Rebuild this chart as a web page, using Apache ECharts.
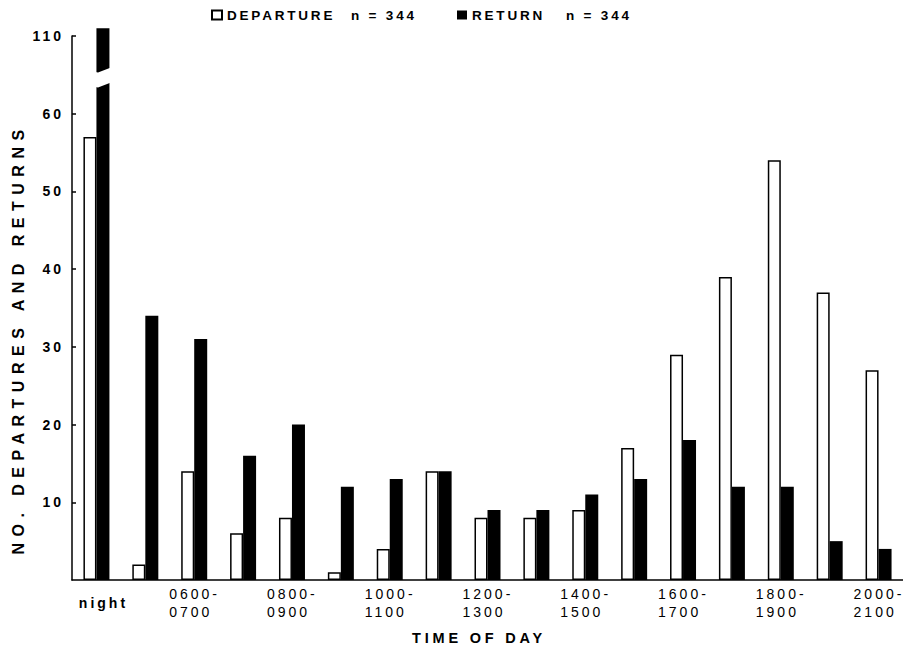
<!DOCTYPE html>
<html><head><meta charset="utf-8">
<script src="https://cdn.jsdelivr.net/npm/echarts@6.0.0/dist/echarts.min.js"></script>
<style>
html,body{margin:0;padding:0;background:#fff;}
#chart{width:903px;height:648px;}
#chart text{letter-spacing:3px;white-space:pre;}
#chart text[style*="16px"]{letter-spacing:6.5px;}
#chart text[style*="14.5px"]{letter-spacing:3.8px;}
#chart text[style*="13.5px"]{letter-spacing:2.8px;}
</style></head><body><div id="chart"></div>
<script>
const categories = ['night','0500-0600','0600-0700','0700-0800','0800-0900','0900-1000','1000-1100','1100-1200','1200-1300','1300-1400','1400-1500','1500-1600','1600-1700','1700-1800','1800-1900','1900-2000','2000-2100'];
const departures = [57, 2, 14, 6, 8, 1, 4, 14, 8, 8, 9, 17, 29, 39, 54, 37, 27];
const returns = [111, 34, 31, 16, 20, 12, 13, 14, 9, 9, 11, 13, 18, 12, 12, 5, 4];
const yTickValues = [10, 20, 30, 40, 50, 60, 110];
const depName = 'DEPARTURE';
const retName = 'RETURN';
const nDeparture = 344;
const nReturn = 344;
const xTitle = 'TIME OF DAY';
const yTitle = 'NO. DEPARTURES AND RETURNS';

const FONT = "'Liberation Sans', Arial, sans-serif";
const chart = echarts.init(document.getElementById('chart'), null, {renderer: 'svg'});

function legendCfg(name, n, left) {
  const ts = {fontFamily: FONT, fontSize: 13.5, fontWeight: 'bold', color: '#000'};
  return {
    data: [name], left: left, top: 3, icon: 'rect', itemWidth: 10, itemHeight: 9,
    selectedMode: false,
    formatter: nm => '{a|' + nm + '}{b|n = ' + n + '}',
    textStyle: Object.assign({}, ts, {
      rich: {
        a: Object.assign({}, ts, {width: name === depName ? 124 : 94}),
        b: Object.assign({}, ts)
      }
    })
  };
}

chart.setOption({
  animation: false,
  backgroundColor: '#fff',
  legend: [legendCfg(depName, nDeparture, 206), legendCfg(retName, nReturn, 452)],
  grid: {left: 72, right: 0, top: 36, bottom: 68, containLabel: false, outerBoundsMode: 'none'},
  xAxis: {
    type: 'category', data: categories,
    name: xTitle, nameLocation: 'middle', nameGap: 50,
    nameTextStyle: {fontFamily: FONT, fontSize: 14.5, fontWeight: 'bold', color: '#000', padding: [0, 17, 0, 0]},
    axisLine: {lineStyle: {color: '#000', width: 1.5}},
    axisTick: {show: false},
    axisLabel: {
      interval: 1, margin: 5, color: '#000',
      formatter: v => {
        if (v.indexOf('-') < 0) return '{n|' + v + '}';
        const p = v.split('-');
        return '{d|' + p[0] + '-}\n{d|' + p[1] + '}';
      },
      rich: {
        d: {fontFamily: FONT, fontSize: 14, color: '#000', width: 50, align: 'left', lineHeight: 18},
        n: {fontFamily: FONT, fontSize: 14, fontWeight: 'bold', color: '#000', lineHeight: 36, padding: [0, 0, 0, 14]}
      }
    }
  },
  yAxis: {
    type: 'value', min: 0, max: 110, z: 10,
    breaks: [{start: 64, end: 106, gap: 2}],
    breakArea: {
      show: true,
      itemStyle: {color: '#fff', borderColor: '#000', borderWidth: 0, opacity: 1},
      zigzagAmplitude: 5, zigzagMinSpan: 26, zigzagMaxSpan: 26, zigzagZ: 5,
      expandOnClick: false
    },
    name: yTitle, nameLocation: 'middle', nameGap: 46, nameRotate: 90,
    nameTextStyle: {fontFamily: FONT, fontSize: 16, fontWeight: 'bold', color: '#000', padding: [0, 62, 0, 0]},
    axisLine: {show: true, breakLine: false, lineStyle: {color: '#000', width: 1.5}},
    axisTick: {show: true, inside: true, length: 4, lineStyle: {color: '#000', width: 1.5}, customValues: yTickValues},
    axisLabel: {fontFamily: FONT, fontSize: 14, fontWeight: 'bold', color: '#000', margin: 8, customValues: yTickValues},
    splitLine: {show: false}
  },
  series: [
    {name: depName, type: 'bar', data: departures, barWidth: 13, barGap: '0%', clip: false,
     itemStyle: {color: '#fff', borderColor: '#000', borderWidth: 1.5}},
    {name: retName, type: 'bar', data: returns, barWidth: 13, barGap: '0%', clip: false,
     itemStyle: {color: '#000'}}
  ]
});
</script></body></html>
